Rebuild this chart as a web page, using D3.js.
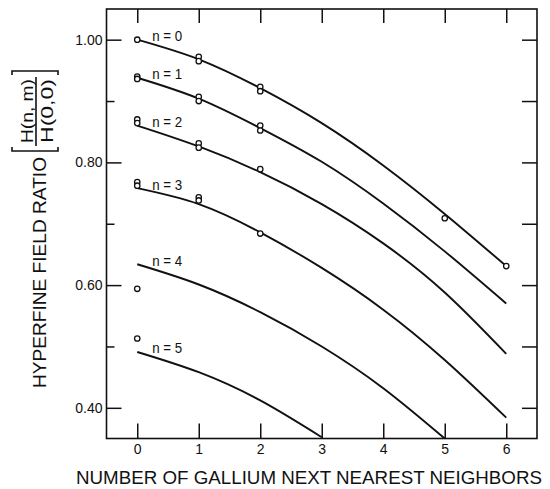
<!DOCTYPE html>
<html>
<head>
<meta charset="utf-8">
<script src="https://cdn.jsdelivr.net/npm/d3@7"></script>
<style>
  body { margin: 0; background: #fff; }
  svg { display: block; }
  text { font-family: "Liberation Sans", Arial, sans-serif; fill: #111; }
</style>
</head>
<body>
<svg id="chart" width="550" height="489"></svg>
<script>
// fitted curves, one value per integer number of Ga neighbours (starting at 0)
const nLabels = ["n = 0", "n = 1", "n = 2", "n = 3", "n = 4", "n = 5"];
const fitN0 = [1.000, 0.968, 0.921, 0.864, 0.795, 0.716, 0.631];
const fitN1 = [0.938, 0.904, 0.856, 0.801, 0.733, 0.655, 0.570];
const fitN2 = [0.860, 0.826, 0.784, 0.732, 0.668, 0.588, 0.488];
const fitN3 = [0.758, 0.732, 0.686, 0.628, 0.560, 0.478, 0.384];
const fitN4 = [0.634, 0.601, 0.556, 0.500, 0.432, 0.350];
const fitN5 = [0.491, 0.458, 0.412, 0.352];

// measured points [neighbours, ratio]
const obsN0 = [[0, 1.000], [1, 0.972], [1, 0.965], [2, 0.923], [2, 0.916], [5, 0.709], [6, 0.631]];
const obsN1 = [[0, 0.940], [0, 0.936], [1, 0.907], [1, 0.900], [2, 0.860], [2, 0.852]];
const obsN2 = [[0, 0.870], [0, 0.864], [1, 0.831], [1, 0.824], [2, 0.789]];
const obsN3 = [[0, 0.768], [0, 0.762], [1, 0.743], [1, 0.738], [2, 0.684]];
const obsN4 = [[0, 0.594]];
const obsN5 = [[0, 0.513]];

const xTicks = [0, 1, 2, 3, 4, 5, 6];
const yMajor = [0.40, 0.60, 0.80, 1.00];
const yMinor = [0.50, 0.70, 0.90];
const yRight = [0.40, 0.50, 0.60, 0.70, 0.80, 0.90, 1.00];

const fits = [fitN0, fitN1, fitN2, fitN3, fitN4, fitN5];
const obs = [obsN0, obsN1, obsN2, obsN3, obsN4, obsN5];

const svg = d3.select("#chart");
const pLeft = 106.5, pRight = 537, pTop = 9, pBottom = 438.5;

const x = d3.scaleLinear().domain([-0.5, 6.5]).range([pLeft, pRight]);
const y = d3.scaleLinear().domain([0.35, 1.05]).range([pBottom, pTop]);

// frame
svg.append("rect")
    .attr("x", pLeft).attr("y", pTop)
    .attr("width", pRight - pLeft).attr("height", pBottom - pTop)
    .attr("fill", "none").attr("stroke", "#111").attr("stroke-width", 1.6);

function styleAxis(g, fs) {
    g.select(".domain").remove();
    g.selectAll(".tick line").attr("stroke", "#111").attr("stroke-width", 1.5);
    g.selectAll(".tick text").style("font-size", fs + "px").attr("fill", "#111");
}

svg.append("g").attr("transform", `translate(${pLeft},0)`)
    .call(d3.axisLeft(y).tickValues(yMajor).tickSize(-15).tickPadding(4).tickFormat(d3.format(".2f")))
    .call(g => styleAxis(g, 14));
svg.append("g").attr("transform", `translate(${pLeft},0)`)
    .call(d3.axisLeft(y).tickValues(yMinor).tickSize(-8).tickFormat(""))
    .call(g => styleAxis(g, 14));
svg.append("g").attr("transform", `translate(${pRight},0)`)
    .call(d3.axisRight(y).tickValues(yRight).tickSize(-15).tickFormat(""))
    .call(g => styleAxis(g, 14));
svg.append("g").attr("transform", `translate(0,${pBottom})`)
    .call(d3.axisBottom(x).tickValues(xTicks).tickSize(-15).tickPadding(6).tickFormat(d3.format("d")))
    .call(g => styleAxis(g, 14));
svg.append("g").attr("transform", `translate(0,${pTop})`)
    .call(d3.axisTop(x).tickValues(xTicks).tickSize(-14).tickFormat(""))
    .call(g => styleAxis(g, 14));

// curves
const line = d3.line()
    .x((d, i) => x(i))
    .y(d => y(d))
    .curve(d3.curveNatural);

svg.append("g").selectAll("path")
    .data(fits)
    .enter()
    .append("path")
    .attr("d", line)
    .attr("fill", "none")
    .attr("stroke", "#111")
    .attr("stroke-width", 1.9);

// measured points
svg.append("g").selectAll("circle")
    .data(obs.flat())
    .enter()
    .append("circle")
    .attr("cx", d => x(d[0]))
    .attr("cy", d => y(d[1]))
    .attr("r", 2.7)
    .attr("fill", "#fff")
    .attr("stroke", "#111")
    .attr("stroke-width", 1.3);

// n labels, just right of each curve start
svg.append("g").selectAll("text")
    .data(nLabels)
    .enter()
    .append("text")
    .attr("x", x(0) + 15)
    .attr("y", (d, i) => y(fits[i][0]) + 1.5)
    .attr("textLength", 30)
    .attr("lengthAdjust", "spacingAndGlyphs")
    .style("font-size", "14px")
    .text(d => d);

// x title
svg.append("text")
    .attr("x", 309).attr("y", 484)
    .attr("text-anchor", "middle")
    .attr("textLength", 466)
    .attr("lengthAdjust", "spacingAndGlyphs")
    .style("font-size", "18px")
    .text("NUMBER OF GALLIUM NEXT NEAREST NEIGHBORS");

// y title, rotated: local (u, v) -> screen (v, -u)
const yt = svg.append("g").attr("transform", "rotate(-90)");
yt.append("text")
    .attr("x", -388).attr("y", 46)
    .attr("textLength", 231)
    .attr("lengthAdjust", "spacingAndGlyphs")
    .style("font-size", "19px")
    .text("HYPERFINE FIELD RATIO");

// brackets around the fraction
const bl = -151, br = -71, b0 = 12, b1 = 58, hook = 4;
yt.append("path")
    .attr("d", `M${bl + hook},${b0}H${bl}V${b1}H${bl + hook}M${br - hook},${b0}H${br}V${b1}H${br - hook}`)
    .attr("fill", "none").attr("stroke", "#111").attr("stroke-width", 1.6);
yt.append("line")
    .attr("x1", -146).attr("x2", -77).attr("y1", 36).attr("y2", 36)
    .attr("stroke", "#111").attr("stroke-width", 1.6);
yt.append("text")
    .attr("x", -111).attr("y", 32.5)
    .attr("text-anchor", "middle")
    .attr("textLength", 64)
    .attr("lengthAdjust", "spacingAndGlyphs")
    .style("font-size", "17px")
    .text("H(n, m)");
yt.append("text")
    .attr("x", -111).attr("y", 53)
    .attr("text-anchor", "middle")
    .attr("textLength", 64)
    .attr("lengthAdjust", "spacingAndGlyphs")
    .style("font-size", "17px")
    .text("H(0,0)");
</script>
</body>
</html>
